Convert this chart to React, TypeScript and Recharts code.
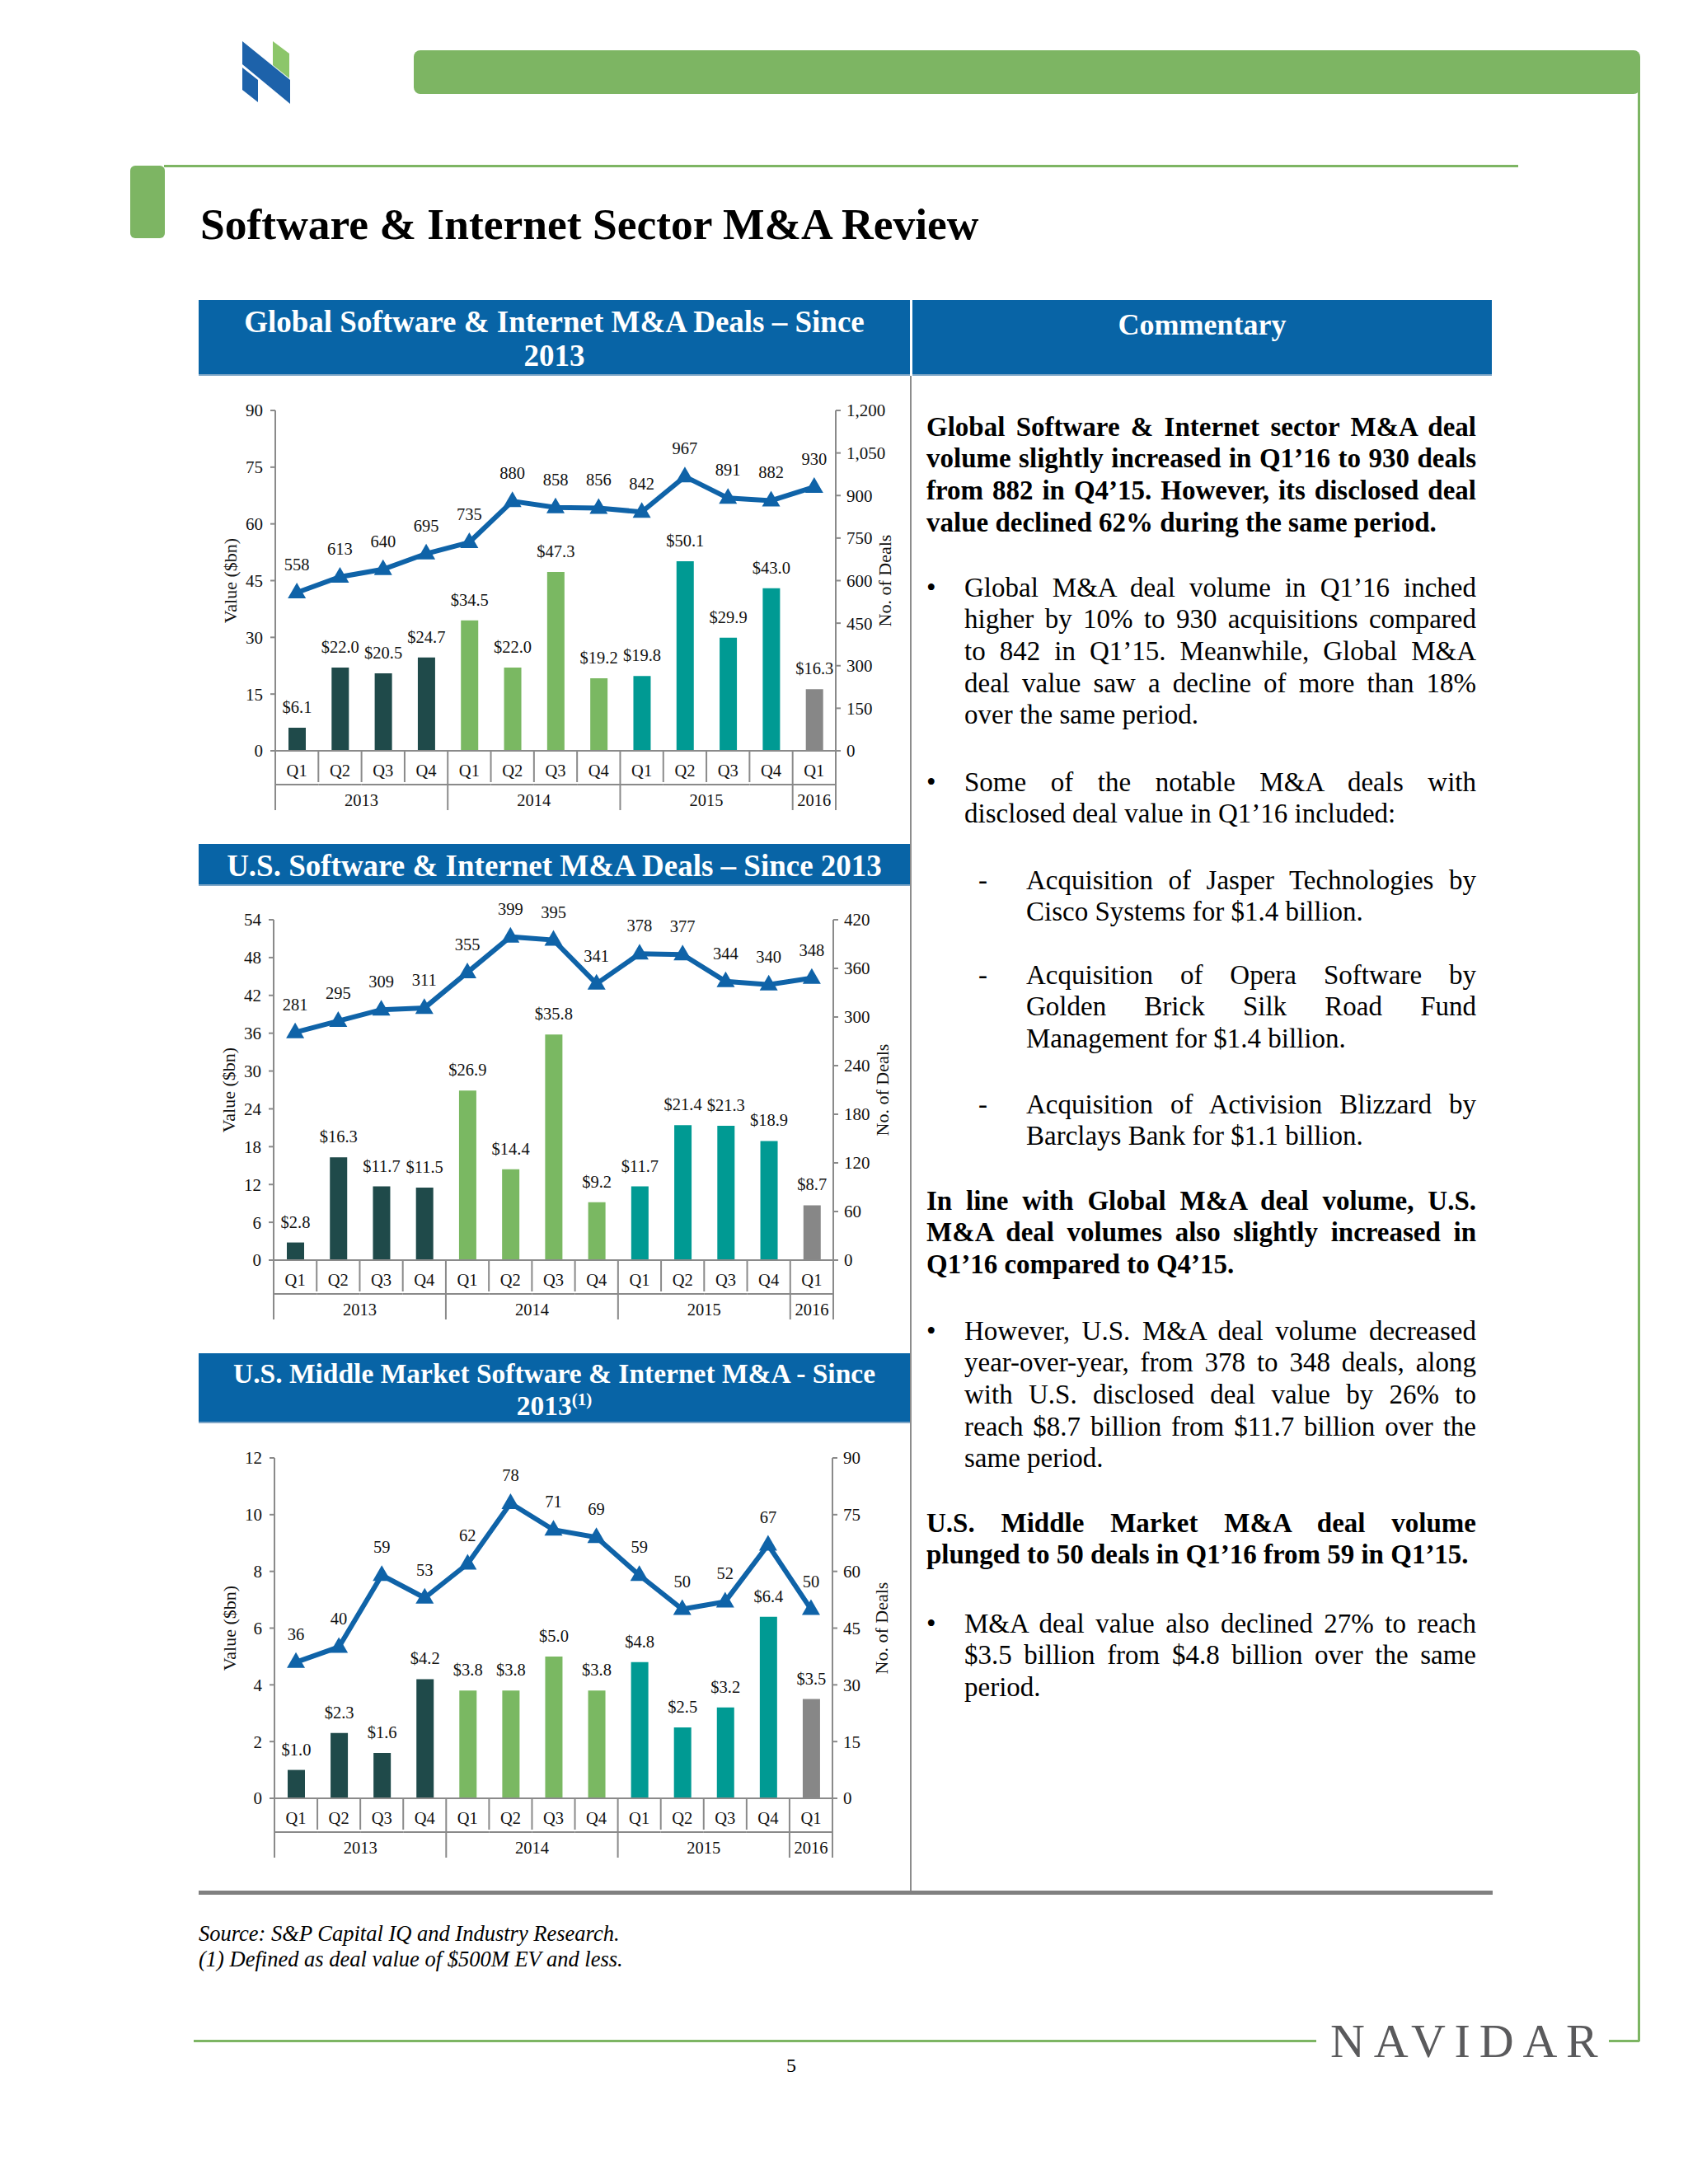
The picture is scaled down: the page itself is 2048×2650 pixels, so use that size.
import React from 'react';
import { ComposedChart, Bar, Line, XAxis, YAxis, Cell, LabelList, Label } from 'recharts';

// categories
const quarters = ['Q1', 'Q2', 'Q3', 'Q4', 'Q1', 'Q2', 'Q3', 'Q4', 'Q1', 'Q2', 'Q3', 'Q4', 'Q1'];
const years = ['2013', '2013', '2013', '2013', '2014', '2014', '2014', '2014', '2015', '2015', '2015', '2015', '2016'];

// Global Software & Internet
const globalValue = [6.1, 22.0, 20.5, 24.7, 34.5, 22.0, 47.3, 19.2, 19.8, 50.1, 29.9, 43.0, 16.3];
const globalDeals = [558, 613, 640, 695, 735, 880, 858, 856, 842, 967, 891, 882, 930];
const globalLeftTicks = [0, 15, 30, 45, 60, 75, 90];
const globalRightTicks = [0, 150, 300, 450, 600, 750, 900, 1050, 1200];

// U.S. Software & Internet
const usValue = [2.8, 16.3, 11.7, 11.5, 26.9, 14.4, 35.8, 9.2, 11.7, 21.4, 21.3, 18.9, 8.7];
const usDeals = [281, 295, 309, 311, 355, 399, 395, 341, 378, 377, 344, 340, 348];
const usLeftTicks = [0, 6, 12, 18, 24, 30, 36, 42, 48, 54];
const usRightTicks = [0, 60, 120, 180, 240, 300, 360, 420];

// U.S. Middle Market
const mmValue = [1.0, 2.3, 1.6, 4.2, 3.8, 3.8, 5.0, 3.8, 4.8, 2.5, 3.2, 6.4, 3.5];
const mmDeals = [36, 40, 59, 53, 62, 78, 71, 69, 59, 50, 52, 67, 50];
const mmLeftTicks = [0, 2, 4, 6, 8, 10, 12];
const mmRightTicks = [0, 15, 30, 45, 60, 75, 90];

const yearColors: Record<string, string> = {
  '2013': '#1F4A4A',
  '2014': '#7AB862',
  '2015': '#009A93',
  '2016': '#878787',
};

const SERIF = '"Liberation Serif", "Times New Roman", Times, serif';
const AXIS = '#8A8A8A';
const LINE = '#0F63A8';
const BLUE = '#0864A6';
const GREEN = '#7DB563';

const CHART_LEFT = 230;
const CHART_W = 880;
const CHART_H = 530;
const PLOT_TOP = 28;
const PLOT_H = 413;
const AXIS_W = 70;
const X_AXIS_H = 80;

function CategoryTick(props: any) {
  const { x, y, payload, bw } = props;
  const i = props.index ?? payload.index;
  const start = i === 0 || years[i] !== years[i - 1];
  const last = i === quarters.length - 1;
  const x0 = x - bw / 2;
  const n = years.filter((yy) => yy === years[i]).length;
  return (
    <g>
      <line x1={x0} x2={x0} y1={y} y2={y + (start ? 72 : 38)} stroke={AXIS} strokeWidth={2} />
      {last && <line x1={x0 + bw} x2={x0 + bw} y1={y} y2={y + 72} stroke={AXIS} strokeWidth={2} />}
      <line x1={x0} x2={x0 + bw} y1={y + 41} y2={y + 41} stroke={AXIS} strokeWidth={2} />
      <text x={x} y={y + 24} dy="0.35em" textAnchor="middle" fontSize={20.5} fontFamily={SERIF} fill="#111">
        {quarters[i]}
      </text>
      {start && (
        <text x={x0 + (n * bw) / 2} y={y + 60} dy="0.35em" textAnchor="middle" fontSize={20.5} fontFamily={SERIF} fill="#111">
          {years[i]}
        </text>
      )}
    </g>
  );
}

const renderTriangle = (p: any) => {
  const { cx, cy, index } = p;
  if (cx == null || cy == null) return <g key={`t-${index}`} />;
  return <path key={`t-${index}`} d={`M${cx},${cy - 12} L${cx + 11},${cy + 7} L${cx - 11},${cy + 7} Z`} fill={LINE} />;
};

const axisTitle = (text: string, side: 'left' | 'right') => (props: any) => {
  const vb = props.viewBox || {};
  const x = side === 'left' ? vb.x + 15 : vb.x + 59;
  const y = vb.y + vb.height / 2;
  return (
    <text transform={`translate(${x}, ${y}) rotate(-90)`} textAnchor="middle" dy="0.35em" fontSize={22} fontFamily={SERIF} fill="#111">
      {text}
    </text>
  );
};

interface DealsChartProps {
  plotTop: number;
  plotLeft: number;
  plotRight: number;
  values: number[];
  deals: number[];
  leftTicks: number[];
  rightTicks: number[];
}

function DealsChart({ plotTop, plotLeft, plotRight, values, deals, leftTicks, rightTicks }: DealsChartProps) {
  const marginLeft = plotLeft - CHART_LEFT - AXIS_W;
  const marginRight = CHART_W - (plotRight - CHART_LEFT) - AXIS_W;
  const bw = (plotRight - plotLeft) / quarters.length;
  const data = quarters.map((q, i) => ({ key: `${years[i]} ${q}`, year: years[i], value: values[i], deals: deals[i] }));
  const tickStyle = { fill: '#111', fontSize: 21, fontFamily: SERIF };

  return (
    <div style={{ position: 'absolute', left: CHART_LEFT, top: plotTop - PLOT_TOP, width: CHART_W, height: CHART_H }}>
      <ComposedChart
        width={CHART_W}
        height={CHART_H}
        data={data}
        barSize={21}
        margin={{ top: PLOT_TOP, right: marginRight, bottom: CHART_H - PLOT_TOP - PLOT_H - X_AXIS_H, left: marginLeft }}
      >
        <XAxis
          dataKey="key"
          interval={0}
          height={X_AXIS_H}
          tickLine={false}
          tickSize={0}
          tickMargin={0}
          axisLine={{ stroke: AXIS, strokeWidth: 2 }}
          tick={(p: any) => <CategoryTick {...p} bw={bw} />}
        />
        <YAxis
          yAxisId="left"
          width={AXIS_W}
          domain={[0, leftTicks[leftTicks.length - 1]]}
          ticks={leftTicks}
          interval={0}
          axisLine={{ stroke: AXIS, strokeWidth: 2 }}
          tickLine={{ stroke: AXIS, strokeWidth: 2 }}
          tickSize={6}
          tickMargin={9}
          tick={tickStyle}
        >
          <Label content={axisTitle('Value ($bn)', 'left')} />
        </YAxis>
        <YAxis
          yAxisId="right"
          orientation="right"
          width={AXIS_W}
          domain={[0, rightTicks[rightTicks.length - 1]]}
          ticks={rightTicks}
          interval={0}
          axisLine={{ stroke: AXIS, strokeWidth: 2 }}
          tickLine={{ stroke: AXIS, strokeWidth: 2 }}
          tickSize={6}
          tickMargin={7}
          tick={tickStyle}
          tickFormatter={(v: number) => v.toLocaleString('en-US')}
        >
          <Label content={axisTitle('No. of Deals', 'right')} />
        </YAxis>
        <Bar yAxisId="left" dataKey="value" isAnimationActive={false}>
          {data.map((d) => (
            <Cell key={d.key} fill={yearColors[d.year]} />
          ))}
          <LabelList
            dataKey="value"
            position="top"
            offset={18}
            fill="#111"
            fontSize={20.5}
            fontFamily={SERIF}
            formatter={(v: any) => `$${Number(v).toFixed(1)}`}
          />
        </Bar>
        <Line
          yAxisId="right"
          type="linear"
          dataKey="deals"
          stroke={LINE}
          strokeWidth={6}
          dot={renderTriangle}
          activeDot={false}
          isAnimationActive={false}
        >
          <LabelList dataKey="deals" position="top" offset={27} fill="#111" fontSize={20.5} fontFamily={SERIF} />
        </Line>
      </ComposedChart>
    </div>
  );
}

const p1 = [
  'Global Software & Internet sector M&A deal',
  'volume slightly increased in Q1’16 to 930 deals',
  'from 882 in Q4’15. However, its disclosed deal',
  'value declined 62% during the same period.',
];
const b1 = [
  'Global M&A deal volume in Q1’16 inched',
  'higher by 10% to 930 acquisitions compared',
  'to 842 in Q1’15. Meanwhile, Global M&A',
  'deal value saw a decline of more than 18%',
  'over the same period.',
];
const b2 = ['Some of the notable M&A deals with', 'disclosed deal value in Q1’16 included:'];
const d1 = ['Acquisition of Jasper Technologies by', 'Cisco Systems for $1.4 billion.'];
const d2 = ['Acquisition of Opera Software by', 'Golden Brick Silk Road Fund', 'Management for $1.4 billion.'];
const d3 = ['Acquisition of Activision Blizzard by', 'Barclays Bank for $1.1 billion.'];
const p2 = ['In line with Global M&A deal volume, U.S.', 'M&A deal volumes also slightly increased in', 'Q1’16 compared to Q4’15.'];
const b3 = [
  'However, U.S. M&A deal volume decreased',
  'year-over-year, from 378 to 348 deals, along',
  'with U.S. disclosed deal value by 26% to',
  'reach $8.7 billion from $11.7 billion over the',
  'same period.',
];
const p3 = ['U.S. Middle Market M&A deal volume', 'plunged to 50 deals in Q1’16 from 59 in Q1’15.'];
const b4 = ['M&A deal value also declined 27% to reach', '$3.5 billion from $4.8 billion over the same', 'period.'];

const LH = 38.7;
const FS = 33;

function Para({ lines, left, right, center, bold, marker, markerLeft }: { lines: string[]; left: number; right: number; center: number; bold?: boolean; marker?: string; markerLeft?: number }) {
  const top = center - LH / 2;
  return (
    <>
      {marker && (
        <div style={{ position: 'absolute', left: markerLeft, top, lineHeight: `${LH}px`, fontSize: FS, fontFamily: SERIF }}>{marker}</div>
      )}
      <div style={{ position: 'absolute', left, top, width: right - left, fontSize: FS, fontFamily: SERIF, fontWeight: bold ? 700 : 400, lineHeight: `${LH}px`, color: '#000' }}>
        {lines.map((l, i) => (
          <div key={i} style={{ textAlign: i === lines.length - 1 ? 'left' : 'justify', textAlignLast: i === lines.length - 1 ? 'left' : 'justify', whiteSpace: 'nowrap' }}>
            {l}
          </div>
        ))}
      </div>
    </>
  );
}

const headerText: React.CSSProperties = {
  position: 'absolute',
  color: '#fff',
  fontFamily: SERIF,
  fontWeight: 700,
  fontSize: 37,
  textAlign: 'center',
  lineHeight: '41px',
  whiteSpace: 'nowrap',
};

export default function App() {
  return (
    <div style={{ position: 'absolute', left: 0, top: 0, width: 2048, height: 2650, background: '#fff', overflow: 'hidden' }}>
      {/* logo */}
      <svg style={{ position: 'absolute', left: 0, top: 0 }} width={400} height={140}>
        <polygon points="294,50 352,97 352,126 294,78" fill="#1D62AA" />
        <polygon points="294,82 313,97 313,124 294,109" fill="#1D62AA" />
        <polygon points="331,50 351,65 351,95 331,79" fill="#8CC66A" />
      </svg>
      {/* top bar and frame lines */}
      <div style={{ position: 'absolute', left: 502, top: 61, width: 1488, height: 53, background: GREEN, borderRadius: 8 }} />
      <div style={{ position: 'absolute', left: 1987, top: 100, width: 3, height: 2377, background: GREEN }} />
      <div style={{ position: 'absolute', left: 199, top: 200, width: 1643, height: 3, background: GREEN }} />
      <div style={{ position: 'absolute', left: 158, top: 201, width: 42, height: 88, background: GREEN, borderRadius: 6 }} />
      <div style={{ position: 'absolute', left: 243, top: 245, fontFamily: SERIF, fontWeight: 700, fontSize: 53.5, lineHeight: '54px', whiteSpace: 'nowrap' }}>
        Software &amp; Internet Sector M&amp;A Review
      </div>

      {/* headers */}
      <div style={{ position: 'absolute', left: 241, top: 364, width: 863, height: 90, background: BLUE, borderBottom: '2px solid #7FA6C6' }} />
      <div style={{ ...headerText, left: 241, top: 369.5, width: 863 }}>
        Global Software &amp; Internet M&amp;A Deals – Since
        <br />
        2013
      </div>
      <div style={{ position: 'absolute', left: 1107, top: 364, width: 703, height: 90, background: BLUE, borderBottom: '2px solid #7FA6C6' }} />
      <div style={{ ...headerText, fontSize: 36, left: 1107, top: 373.5, width: 703 }}>Commentary</div>
      <div style={{ position: 'absolute', left: 1104, top: 456, width: 2, height: 1838, background: '#8C8C8C' }} />

      <div style={{ position: 'absolute', left: 241, top: 1024, width: 863, height: 49, background: BLUE, borderBottom: '2px solid #7FA6C6' }} />
      <div style={{ ...headerText, left: 241, top: 1029.5, width: 863 }}>U.S. Software &amp; Internet M&amp;A Deals – Since 2013</div>

      <div style={{ position: 'absolute', left: 241, top: 1642, width: 863, height: 83, background: BLUE, borderBottom: '2px solid #7FA6C6' }} />
      <div style={{ ...headerText, fontSize: 33.5, lineHeight: '39px', left: 241, top: 1646.5, width: 863 }}>
        U.S. Middle Market Software &amp; Internet M&amp;A - Since
        <br />
        2013<sup style={{ fontSize: 21, lineHeight: 0 }}>(1)</sup>
      </div>

      <DealsChart plotTop={498} plotLeft={334} plotRight={1014} values={globalValue} deals={globalDeals} leftTicks={globalLeftTicks} rightTicks={globalRightTicks} />
      <DealsChart plotTop={1116} plotLeft={332} plotRight={1011} values={usValue} deals={usDeals} leftTicks={usLeftTicks} rightTicks={usRightTicks} />
      <DealsChart plotTop={1769} plotLeft={333} plotRight={1010} values={mmValue} deals={mmDeals} leftTicks={mmLeftTicks} rightTicks={mmRightTicks} />

      {/* commentary */}
      <Para lines={p1} left={1124} right={1791} center={518} bold />
      <Para lines={b1} left={1170} right={1791} center={713} marker="•" markerLeft={1124} />
      <Para lines={b2} left={1170} right={1791} center={949} marker="•" markerLeft={1124} />
      <Para lines={d1} left={1245} right={1791} center={1068} marker="-" markerLeft={1187} />
      <Para lines={d2} left={1245} right={1791} center={1183} marker="-" markerLeft={1187} />
      <Para lines={d3} left={1245} right={1791} center={1340} marker="-" markerLeft={1187} />
      <Para lines={p2} left={1124} right={1791} center={1457} bold />
      <Para lines={b3} left={1170} right={1791} center={1615} marker="•" markerLeft={1124} />
      <Para lines={p3} left={1124} right={1791} center={1848} bold />
      <Para lines={b4} left={1170} right={1791} center={1970} marker="•" markerLeft={1124} />

      {/* footer */}
      <div style={{ position: 'absolute', left: 241, top: 2294, width: 1570, height: 5, background: '#808080' }} />
      <div style={{ position: 'absolute', left: 241, top: 2331, fontFamily: SERIF, fontStyle: 'italic', fontSize: 26.5, lineHeight: '31px', whiteSpace: 'nowrap' }}>
        Source: S&amp;P Capital IQ and Industry Research.
        <br />
        (1) Defined as deal value of $500M EV and less.
      </div>
      <div style={{ position: 'absolute', left: 235, top: 2475, width: 1362, height: 3, background: GREEN }} />
      <div style={{ position: 'absolute', left: 1952, top: 2475, width: 37, height: 3, background: GREEN }} />
      <div style={{ position: 'absolute', left: 1614, top: 2448, fontFamily: SERIF, fontSize: 58, lineHeight: '58px', letterSpacing: 10.8, color: '#5A5A5C', whiteSpace: 'nowrap' }}>
        NAVIDAR
      </div>
      <div style={{ position: 'absolute', left: 954, top: 2494, fontFamily: SERIF, fontSize: 24, lineHeight: '24px' }}>5</div>
    </div>
  );
}
